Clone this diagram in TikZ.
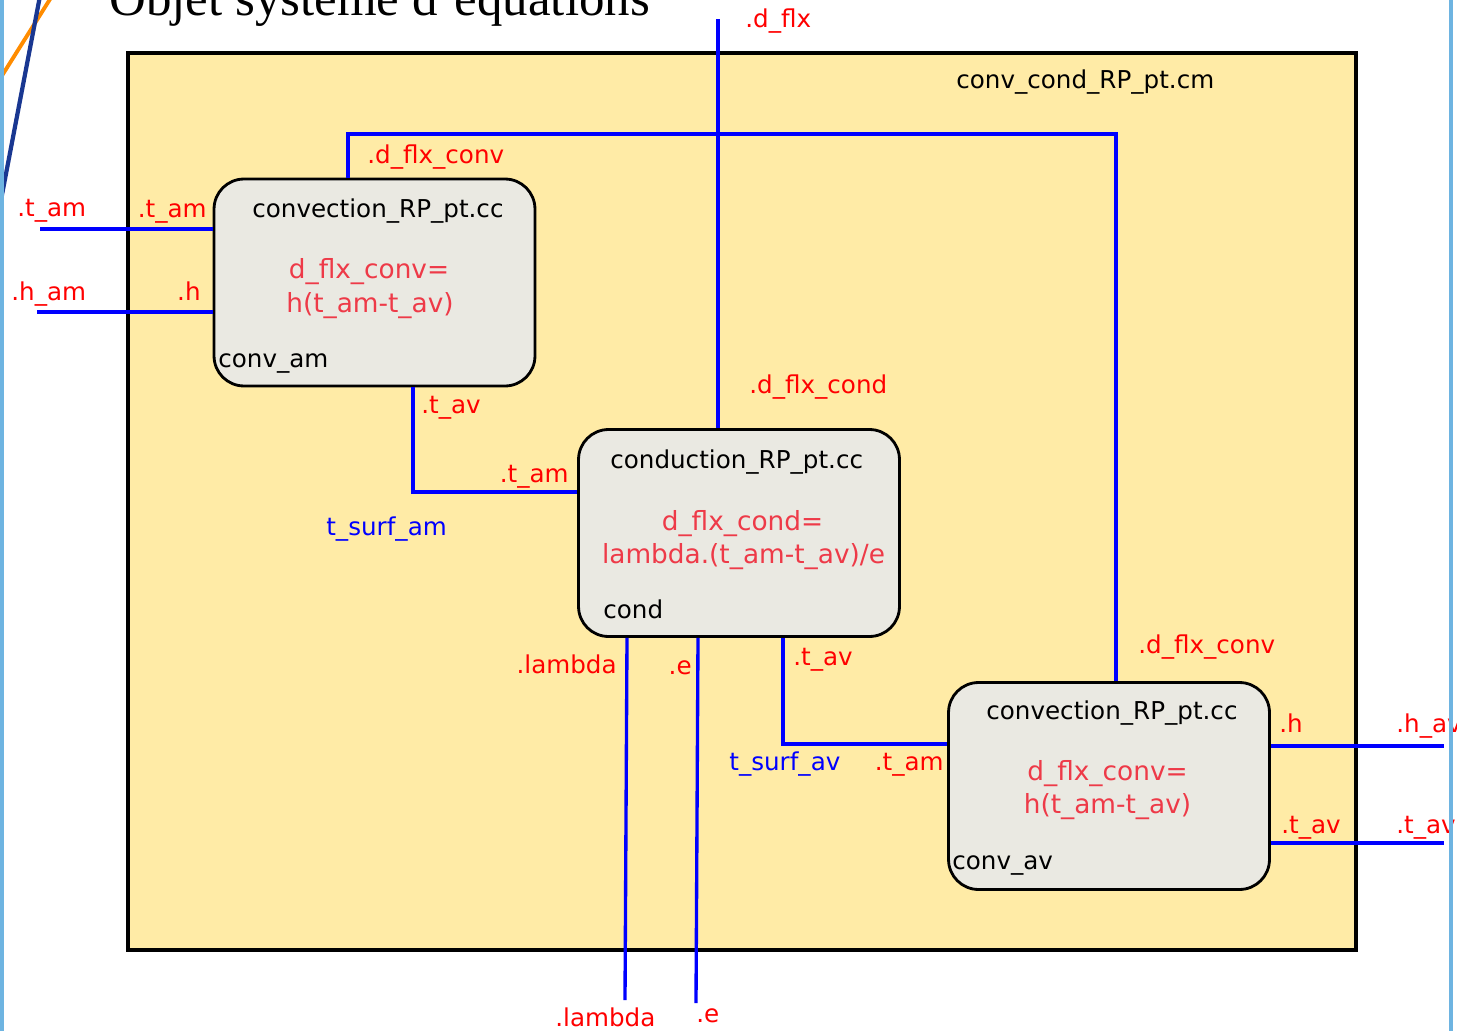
\documentclass[tikz,border=0pt]{standalone}
\usepackage{fontspec}
\setmainfont{Liberation Serif}
\newfontfamily\lblfont{DejaVu Sans}
\usetikzlibrary{positioning}
\definecolor{fondjaune}{RGB}{255,235,166}
\definecolor{fondgris}{RGB}{234,233,226}
\definecolor{rougeeq}{RGB}{238,58,72}
\definecolor{bleuclair}{RGB}{110,180,225}
\definecolor{orangedeco}{RGB}{255,140,0}
\definecolor{bleudeco}{RGB}{25,55,145}
\begin{document}
\begin{tikzpicture}[x=0.02cm,y=-0.02cm,
  cadre/.style={draw, line width=1.9pt, fill=fondjaune, minimum width=24.56cm, minimum height=17.94cm, inner sep=0pt},
  bloc/.style={draw, line width=1.6pt, rounded corners=0.6cm, fill=fondgris, minimum width=6.42cm, minimum height=4.14cm, inner sep=0pt},
  lien/.style={draw=blue, line width=1.9pt},
  port/.style={text=red, font=\lblfont\fontsize{14}{16}\selectfont, anchor=base west, inner sep=0pt},
  portd/.style={port, anchor=base east},
  var/.style={port, text=blue},
  nom/.style={port, text=black},
  eq/.style={text=rougeeq, font=\lblfont\fontsize{15}{18}\selectfont, anchor=base, inner sep=0pt}]
\useasboundingbox (0,0) rectangle (1457,1031);
\clip (0,0) rectangle (1457,1031);
\fill[white] (0,0) rectangle (1457,1031);
% title of the slide, cut by the top edge
\node[anchor=base west, inner sep=0pt, font=\fontsize{29}{34}\selectfont] (titre) at (109,15) {Objet système d'équations};
\draw[orangedeco, line width=2.2pt] (-2,82) -- (52,-4);
\draw[bleudeco, line width=2.4pt] (1,200) -- (40,-4);
% model conv_cond_RP_pt.cm
\node[cadre] (cm) at (742,501.5) {};
\node[nom] (cm-nom) at (956,88) {conv\_cond\_RP\_pt.cm};
\node[bloc] (am) at (374.5,282.5) {};
\node[bloc] (cond) at (739,533) {};
\node[bloc] (av) at (1109,786) {};
% texts of the blocks
\node[nom] (am-titre) at (252,217) {convection\_RP\_pt.cc};
\node[eq] (am-eq1) at (369,278) {d\_flx\_conv=};
\node[eq] (am-eq2) at (370,312) {h(t\_am-t\_av)};
\node[nom] (am-nom) at (218,367) {conv\_am};
\node[nom] (cond-titre) at (610,468) {conduction\_RP\_pt.cc};
\node[eq] (cond-eq1) at (742.5,530) {d\_flx\_cond=};
\node[eq] (cond-eq2) at (743.5,563) {lambda.(t\_am-t\_av)/e};
\node[nom] (cond-nom) at (603,618) {cond};
\node[nom] (av-titre) at (986,719) {convection\_RP\_pt.cc};
\node[eq] (av-eq1) at (1107.5,780) {d\_flx\_conv=};
\node[eq] (av-eq2) at (1107.5,813) {h(t\_am-t\_av)};
\node[nom] (av-nom) at (952,869) {conv\_av};
% free ends
\coordinate (tam-ext) at (40,229);
\coordinate (ham-ext) at (37,312);
\coordinate (dflx-ext) at (718,19);
\coordinate (lambda-ext) at (625,1000);
\coordinate (e-ext) at (696,1003);
\coordinate (hav-ext) at (1444,746);
\coordinate (tav-ext) at (1444,843);
% connections
\draw[lien] (tam-ext) -- (tam-ext -| am.west);
\draw[lien] (ham-ext) -- (ham-ext -| am.west);
\draw[lien] (am.north -| 348,0) -- (348,134) -| (av.north -| 1116,0);
\draw[lien] (dflx-ext) -- (dflx-ext |- cond.north);
\draw[lien] (am.south -| 413,0) |- (cond.west |- 0,492);
\draw[lien] (cond.south -| 627,0) -- (lambda-ext);
\draw[lien] (cond.south -| 698,0) -- (e-ext);
\draw[lien] (cond.south -| 783,0) |- (av.west |- 0,744);
\draw[lien] (av.east |- hav-ext) -- (hav-ext);
\draw[lien] (av.east |- tav-ext) -- (tav-ext);
% port names
\node[port] (l-tam-ext) at (17,216) {.t\_am};
\node[portd] (l-tam) at (207,217) {.t\_am};
\node[port] (l-ham-ext) at (11,300) {.h\_am};
\node[portd] (l-h) at (201,300) {.h};
\node[port] (l-dflxconv-am) at (367,163) {.d\_flx\_conv};
\node[port] (l-dflx-ext) at (745,28) {.d\_flx};
\node[port] (l-dflxcond) at (749,393) {.d\_flx\_cond};
\node[port] (l-tav-am) at (421,413) {.t\_av};
\node[portd] (l-tam-cond) at (569,482) {.t\_am};
\node[var] (v-tsurfam) at (326,535) {t\_surf\_am};
\node[portd] (l-lambda) at (617,673) {.lambda};
\node[port] (l-lambda-ext) at (555,1026) {.lambda};
\node[portd] (l-e) at (692,674) {.e};
\node[port] (l-e-ext) at (696,1022) {.e};
\node[port] (l-tav-cond) at (793,665) {.t\_av};
\node[var] (v-tsurfav) at (729,770) {t\_surf\_av};
\node[portd] (l-tam-av) at (944,770) {.t\_am};
\node[port] (l-dflxconv-av) at (1138,653) {.d\_flx\_conv};
\node[port] (l-h-av) at (1279,732) {.h};
\node[port] (l-hav-ext) at (1396,732) {.h\_av};
\node[port] (l-tav-av) at (1281,833) {.t\_av};
\node[port] (l-tav-ext) at (1396,833) {.t\_av};
% slide borders
\draw[bleuclair, line width=2pt] (2,0) -- (2,1031);
\draw[bleuclair, line width=2pt] (1451,0) -- (1451,1031);
\end{tikzpicture}
\end{document}
